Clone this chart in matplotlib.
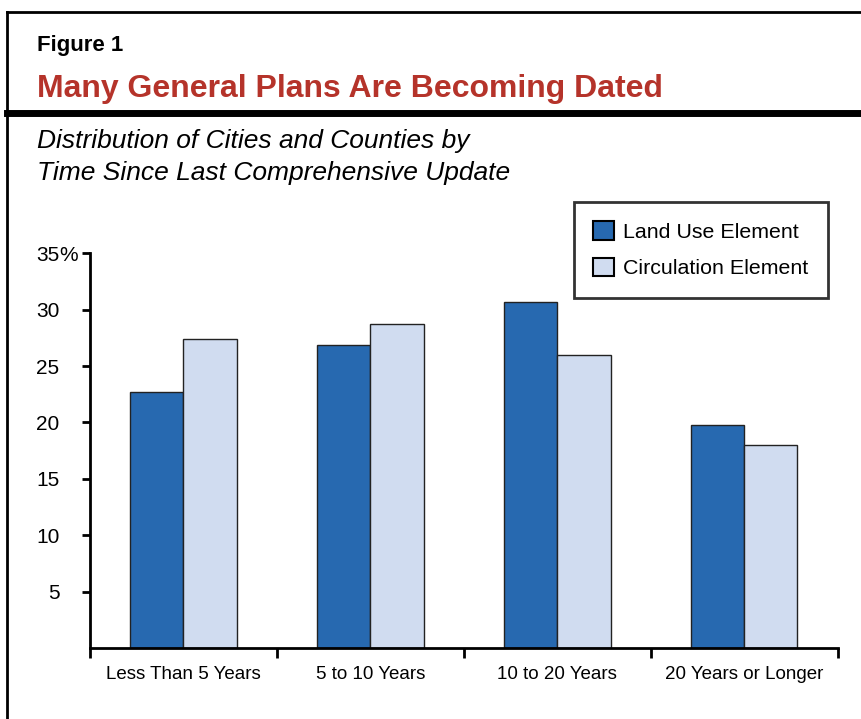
import matplotlib.pyplot as plt
import numpy as np
from matplotlib.lines import Line2D

# --- Données ---
categories = ["Less Than 5 Years", "5 to 10 Years", "10 to 20 Years", "20 Years or Longer"]
land_use = [22.7, 26.9, 30.7, 19.8]
circulation = [27.4, 28.7, 26.0, 18.0]
y_ticks = [5, 10, 15, 20, 25, 30, 35]
y_labels = ["5", "10", "15", "20", "25", "30", "35"]

plt.rcParams['font.family'] = ['Liberation Sans', 'DejaVu Sans']

fig = plt.figure(figsize=(8.62, 7.19), dpi=100)
ax = fig.add_axes([0.1044, 0.0987, 0.8676, 0.549])

x = np.arange(len(categories))
w = 0.284
ax.bar(x - w / 2, land_use, w, color='#2769B0', edgecolor='#222222', linewidth=1.0, label="Land Use Element")
ax.bar(x + w / 2, circulation, w, color='#D0DCF0', edgecolor='#222222', linewidth=1.0, label="Circulation Element")

ax.set_xlim(-0.5, len(categories) - 0.5)
ax.set_ylim(0, 35)
ax.set_yticks(y_ticks)
ax.set_yticklabels(y_labels, fontsize=15)
# le signe % déborde à droite du 35, comme dans l'original
ax.annotate("%", xy=(0, 35), xycoords=('axes fraction', 'data'), xytext=(-22.3, 0),
            textcoords='offset points', ha='left', va='center_baseline', fontsize=15)
ax.set_xticks(np.arange(len(categories) + 1) - 0.5)
ax.set_xticklabels([])
ax.set_xticks(x, minor=True)
ax.set_xticklabels(categories, minor=True, fontsize=13.5)
ax.tick_params(axis='x', which='minor', length=0, pad=13)
ax.tick_params(axis='x', which='major', length=7, width=2, direction='out')
ax.tick_params(axis='y', length=6, width=2, direction='out', pad=16)
for s in ['top', 'right']:
    ax.spines[s].set_visible(False)
for s in ['left', 'bottom']:
    ax.spines[s].set_linewidth(2)

leg = ax.legend(loc='upper left', bbox_to_anchor=(574 / 862, 1 - 202 / 719), bbox_transform=fig.transFigure,
                fancybox=False, fontsize=15.4, handlelength=0.95, handleheight=0.95, handletextpad=0.45,
                labelspacing=0.75, borderpad=0.9, borderaxespad=0)
leg.get_frame().set_edgecolor('black')
leg.get_frame().set_linewidth(2)
for h in leg.legend_handles:
    h.set_edgecolor('black')
    h.set_linewidth(1.5)

# --- Cadre et textes ---
fig.add_artist(Line2D([7 / 862, 7 / 862], [0, 1 - 12 / 719], color='black', linewidth=2))
fig.add_artist(Line2D([7 / 862, 1], [1 - 12 / 719, 1 - 12 / 719], color='black', linewidth=2))
fig.add_artist(Line2D([7 / 862, 1], [1 - 113 / 719, 1 - 113 / 719], color='black', linewidth=5))

fig.text(37 / 862, 1 - 45 / 719, "Figure 1", fontsize=16, fontweight='bold', va='center')
fig.text(37 / 862, 1 - 89 / 719, "Many General Plans Are Becoming Dated", fontsize=23,
         fontweight='bold', color='#B5332A', va='center')
fig.text(37 / 862, 1 - 141 / 719, "Distribution of Cities and Counties by", fontsize=19,
         style='italic', va='center')
fig.text(37 / 862, 1 - 173 / 719, "Time Since Last Comprehensive Update", fontsize=19,
         style='italic', va='center')

fig.savefig("out.png", dpi=100)
